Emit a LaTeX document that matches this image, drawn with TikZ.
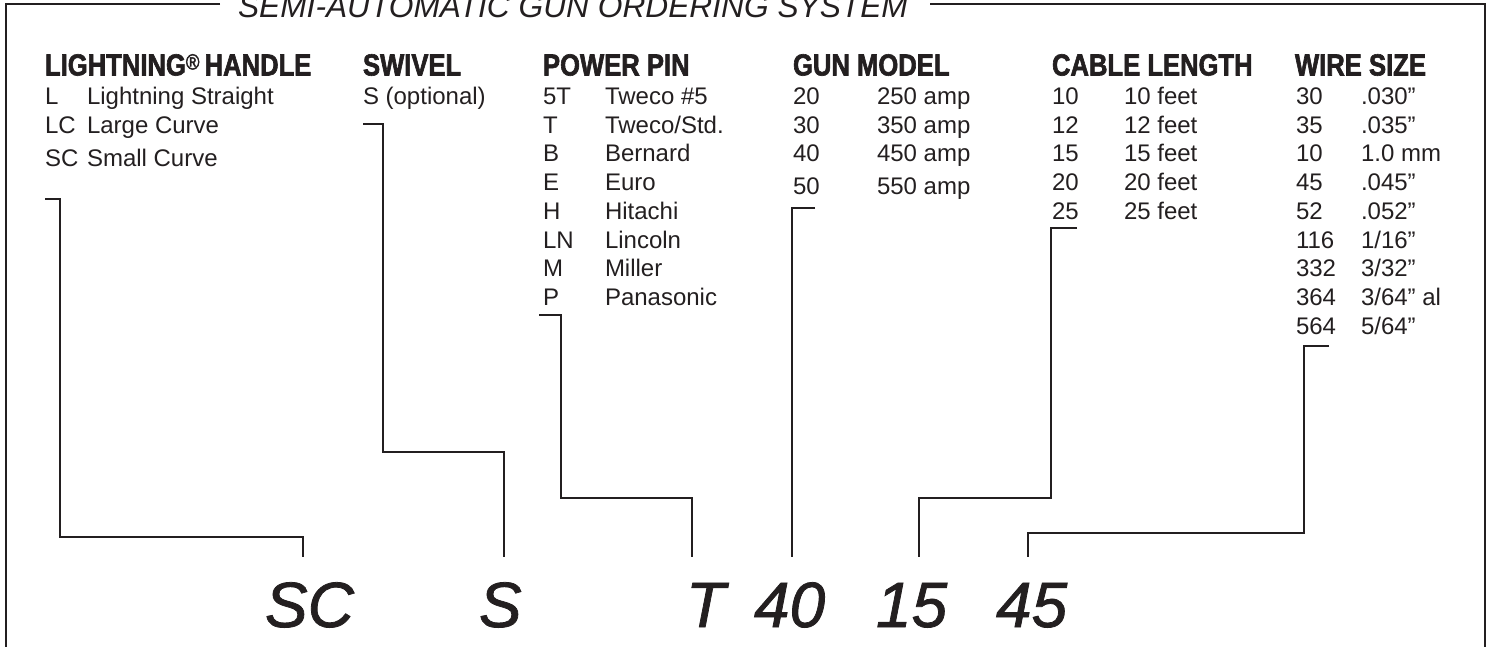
\documentclass[tikz,border=0pt]{standalone}
\usepackage{fontspec}
\setmainfont{Liberation Sans}
\newfontfamily\hdrfont{Liberation Sans}[FakeStretch=0.84,FakeBold=2]
\newfontfamily\codefont{Liberation Sans}[FakeBold=1.2]
\definecolor{ink}{RGB}{35,31,32}
\begin{document}
\begin{tikzpicture}[x=1pt,y=-1pt,
  txt/.style={anchor=base west,inner sep=0pt,outer sep=0pt,text=ink,font=\fontsize{24}{28}\selectfont},
  hdr/.style={anchor=base west,inner sep=0pt,outer sep=0pt,text=ink,font=\hdrfont\bfseries\fontsize{30.5}{30}\selectfont},
  codetxt/.style={anchor=base west,inner sep=0pt,outer sep=0pt,text=ink,font=\codefont\itshape\fontsize{64}{64}\selectfont},
  titletxt/.style={anchor=base west,inner sep=0pt,outer sep=0pt,text=ink,font=\itshape\fontsize{31.7}{32}\selectfont},
  frame/.style={draw=ink,line width=2.6pt,line join=miter},
  lead/.style={draw=ink,line width=2pt,line join=miter}]
\clip (0,0) rectangle (1494,647);
% title and frame
\node[titletxt] (title) at (238,18) {SEMI-AUTOMATIC GUN ORDERING SYSTEM};
\coordinate (fl) at (220,4);
\coordinate (fr) at (930,4);
\draw[frame] (fl) -- (6,4) -- (6,660);
\draw[frame] (fr) -- (1485,4) -- (1485,660);
% headers
\node[hdr] (hLH) at (45,75.5) {LIGHTNING\raisebox{6pt}{\fontsize{22}{22}\selectfont\mdseries ®}\,HANDLE};
\node[hdr] (hSW) at (363,75.5) {SWIVEL};
\node[hdr] (hPP) at (543,75.5) {POWER PIN};
\node[hdr] (hGM) at (793,75.5) {GUN MODEL};
\node[hdr] (hCL) at (1052,75.5) {CABLE LENGTH};
\node[hdr] (hWS) at (1295,75.5) {WIRE SIZE};
% lightning handle
\node[txt] (lh1c) at (45,104.5) {L};   \node[txt] (lh1d) at (87,104.5) {Lightning Straight};
\node[txt] (lh2c) at (45,133.2) {LC};  \node[txt] (lh2d) at (87,133.2) {Large Curve};
\node[txt] (lh3c) at (45,166.7) {SC};  \node[txt] (lh3d) at (87,166.7) {Small Curve};
% swivel
\node[txt] (sw1) at (363,104.5) {S (optional)};
% power pin
\node[txt] (pp1c) at (543,104.5) {5T}; \node[txt] (pp1d) at (605,104.5) {Tweco \#5};
\node[txt] (pp2c) at (543,133.2) {T};  \node[txt] (pp2d) at (605,133.2) {Tweco/Std.};
\node[txt] (pp3c) at (543,161.9) {B};  \node[txt] (pp3d) at (605,161.9) {Bernard};
\node[txt] (pp4c) at (543,190.6) {E};  \node[txt] (pp4d) at (605,190.6) {Euro};
\node[txt] (pp5c) at (543,219.3) {H};  \node[txt] (pp5d) at (605,219.3) {Hitachi};
\node[txt] (pp6c) at (543,248.0) {LN}; \node[txt] (pp6d) at (605,248.0) {Lincoln};
\node[txt] (pp7c) at (543,276.7) {M};  \node[txt] (pp7d) at (605,276.7) {Miller};
\node[txt] (pp8c) at (543,305.4) {P};  \node[txt] (pp8d) at (605,305.4) {Panasonic};
% gun model
\node[txt] (gm1c) at (793,104.5) {20}; \node[txt] (gm1d) at (877,104.5) {250 amp};
\node[txt] (gm2c) at (793,133.2) {30}; \node[txt] (gm2d) at (877,133.2) {350 amp};
\node[txt] (gm3c) at (793,161.9) {40}; \node[txt] (gm3d) at (877,161.9) {450 amp};
\node[txt] (gm4c) at (793,195.0) {50}; \node[txt] (gm4d) at (877,195.0) {550 amp};
% cable length
\node[txt] (cl1c) at (1052,104.5) {10}; \node[txt] (cl1d) at (1124,104.5) {10 feet};
\node[txt] (cl2c) at (1052,133.2) {12}; \node[txt] (cl2d) at (1124,133.2) {12 feet};
\node[txt] (cl3c) at (1052,161.9) {15}; \node[txt] (cl3d) at (1124,161.9) {15 feet};
\node[txt] (cl4c) at (1052,190.6) {20}; \node[txt] (cl4d) at (1124,190.6) {20 feet};
\node[txt] (cl5c) at (1052,219.3) {25}; \node[txt] (cl5d) at (1124,219.3) {25 feet};
% wire size
\node[txt] (ws1c) at (1296,104.5) {30};  \node[txt] (ws1d) at (1361,104.5) {.030”};
\node[txt] (ws2c) at (1296,133.2) {35};  \node[txt] (ws2d) at (1361,133.2) {.035”};
\node[txt] (ws3c) at (1296,161.9) {10};  \node[txt] (ws3d) at (1361,161.9) {1.0 mm};
\node[txt] (ws4c) at (1296,190.6) {45};  \node[txt] (ws4d) at (1361,190.6) {.045”};
\node[txt] (ws5c) at (1296,219.3) {52};  \node[txt] (ws5d) at (1361,219.3) {.052”};
\node[txt] (ws6c) at (1296,248.0) {116}; \node[txt] (ws6d) at (1361,248.0) {1/16”};
\node[txt] (ws7c) at (1296,276.7) {332}; \node[txt] (ws7d) at (1361,276.7) {3/32”};
\node[txt] (ws8c) at (1296,305.4) {364}; \node[txt] (ws8d) at (1361,305.4) {3/64” al};
\node[txt] (ws9c) at (1296,334.1) {564}; \node[txt] (ws9d) at (1361,334.1) {5/64”};
% example code
\node[codetxt] (cSC) at (265,627) {SC};
\node[codetxt] (cS)  at (479,627) {S};
\node[codetxt] (cT)  at (686,627) {T};
\node[codetxt] (c40) at (754,627) {40};
\node[codetxt] (c15) at (876,627) {15};
\node[codetxt] (c45) at (996,627) {45};
% leader end points
\coordinate (lhS) at (45,199);   \coordinate (lhE) at (303,557);
\coordinate (swS) at (363,124);  \coordinate (swE) at (504,557);
\coordinate (ppS) at (539,315);  \coordinate (ppE) at (692,557);
\coordinate (gmS) at (815,208);  \coordinate (gmE) at (792,557);
\coordinate (clS) at (1077,228); \coordinate (clE) at (919,557);
\coordinate (wsS) at (1329,346); \coordinate (wsE) at (1028,557);
% leaders
\draw[lead] (lhS) -- (60,199) -- (60,537) -| (lhE);
\draw[lead] (swS) -- (383,124) -- (383,452) -| (swE);
\draw[lead] (ppS) -- (561,315) -- (561,498) -| (ppE);
\draw[lead] (gmS) -- (792,208) -- (gmE);
\draw[lead] (clS) -- (1051,228) -- (1051,498) -| (clE);
\draw[lead] (wsS) -- (1304,346) -- (1304,533) -| (wsE);
\end{tikzpicture}
\end{document}
